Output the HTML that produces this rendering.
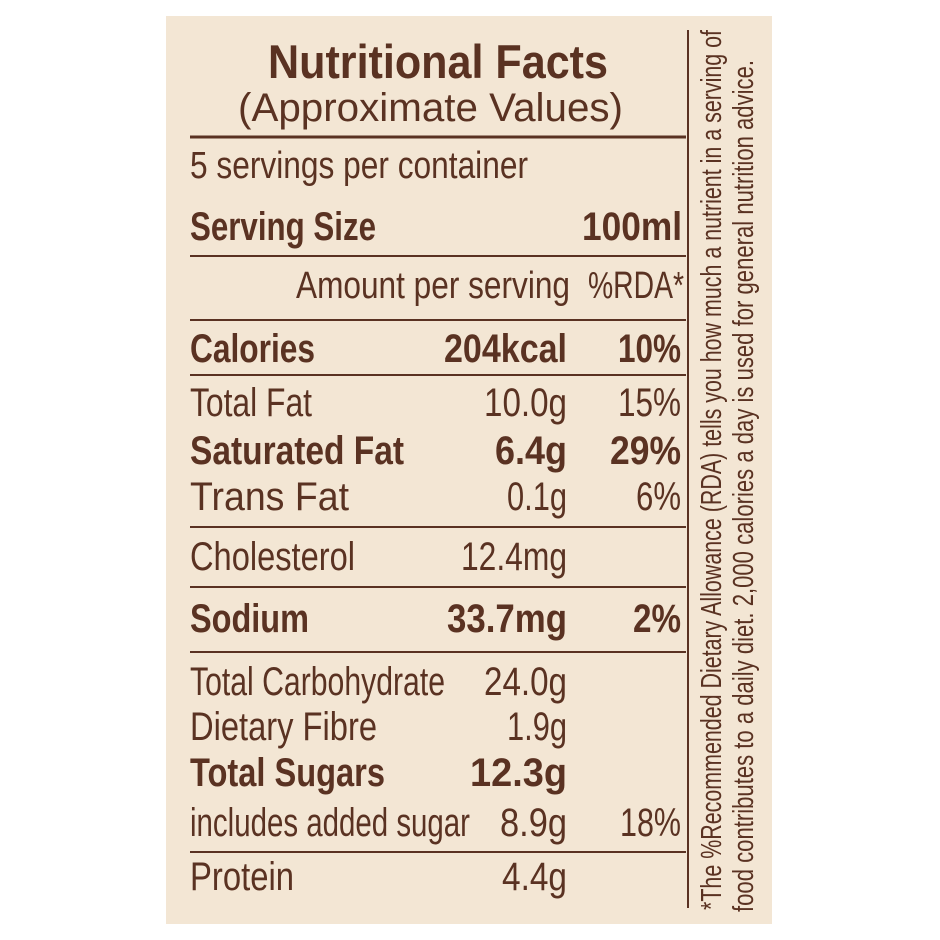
<!DOCTYPE html>
<html><head><meta charset="utf-8"><style>
html,body{margin:0;padding:0;background:#fff;}
svg{display:block}
text{font-family:"Liberation Sans",sans-serif;fill:#5a3222;}
.b{font-weight:bold}
</style></head><body>
<svg width="940" height="940" viewBox="0 0 940 940" xmlns="http://www.w3.org/2000/svg">
<rect x="166" y="16" width="606" height="908" fill="#f3e6d4"/>
<g stroke="#5a3222">
<line x1="190" y1="137" x2="686" y2="137" stroke-width="3"/>
<line x1="190" y1="256" x2="686" y2="256" stroke-width="2"/>
<line x1="190" y1="320" x2="686" y2="320" stroke-width="2"/>
<line x1="190" y1="375" x2="686" y2="375" stroke-width="2"/>
<line x1="190" y1="527" x2="686" y2="527" stroke-width="2"/>
<line x1="190" y1="587" x2="686" y2="587" stroke-width="2"/>
<line x1="190" y1="652" x2="686" y2="652" stroke-width="2"/>
<line x1="190" y1="852" x2="686" y2="852" stroke-width="2"/>
<line x1="688" y1="30" x2="688" y2="908" stroke-width="2"/>
</g>
<text class="b" x="268" y="78" font-size="47" textLength="340" lengthAdjust="spacingAndGlyphs">Nutritional Facts</text>
<text x="238" y="121" font-size="40" textLength="385" lengthAdjust="spacingAndGlyphs">(Approximate Values)</text>
<text x="190" y="178" font-size="38" textLength="338" lengthAdjust="spacingAndGlyphs">5 servings per container</text>
<text class="b" x="190" y="240" font-size="40" textLength="186" lengthAdjust="spacingAndGlyphs">Serving Size</text>
<text class="b" x="582" y="240" font-size="40" textLength="100" lengthAdjust="spacingAndGlyphs">100ml</text>
<text x="296" y="298" font-size="38" textLength="274" lengthAdjust="spacingAndGlyphs">Amount per serving</text>
<text x="588" y="298" font-size="38" textLength="96" lengthAdjust="spacingAndGlyphs">%RDA*</text>

<g font-size="40">
<text class="b" x="190" y="362" textLength="125" lengthAdjust="spacingAndGlyphs">Calories</text>
<text class="b" x="444" y="362" textLength="123" lengthAdjust="spacingAndGlyphs">204kcal</text>
<text class="b" x="618" y="362" textLength="63" lengthAdjust="spacingAndGlyphs">10%</text>

<text x="190" y="416" textLength="122" lengthAdjust="spacingAndGlyphs">Total Fat</text>
<text x="484" y="416" textLength="83" lengthAdjust="spacingAndGlyphs">10.0g</text>
<text x="618" y="416" textLength="63" lengthAdjust="spacingAndGlyphs">15%</text>

<text class="b" x="190" y="464" textLength="214" lengthAdjust="spacingAndGlyphs">Saturated Fat</text>
<text class="b" x="495" y="464" textLength="72" lengthAdjust="spacingAndGlyphs">6.4g</text>
<text class="b" x="610" y="464" textLength="71" lengthAdjust="spacingAndGlyphs">29%</text>

<text x="190" y="510" textLength="159" lengthAdjust="spacingAndGlyphs">Trans Fat</text>
<text x="507" y="510" textLength="60" lengthAdjust="spacingAndGlyphs">0.1g</text>
<text x="636" y="510" textLength="45" lengthAdjust="spacingAndGlyphs">6%</text>

<text x="190" y="570" textLength="165" lengthAdjust="spacingAndGlyphs">Cholesterol</text>
<text x="461" y="570" textLength="106" lengthAdjust="spacingAndGlyphs">12.4mg</text>

<text class="b" x="190" y="632" textLength="119" lengthAdjust="spacingAndGlyphs">Sodium</text>
<text class="b" x="447" y="632" textLength="120" lengthAdjust="spacingAndGlyphs">33.7mg</text>
<text class="b" x="633" y="632" textLength="48" lengthAdjust="spacingAndGlyphs">2%</text>

<text x="190" y="695" textLength="255" lengthAdjust="spacingAndGlyphs">Total Carbohydrate</text>
<text x="484" y="695" textLength="83" lengthAdjust="spacingAndGlyphs">24.0g</text>

<text x="190" y="740" textLength="187" lengthAdjust="spacingAndGlyphs">Dietary Fibre</text>
<text x="507" y="740" textLength="60" lengthAdjust="spacingAndGlyphs">1.9g</text>

<text class="b" x="190" y="786" textLength="195" lengthAdjust="spacingAndGlyphs">Total Sugars</text>
<text class="b" x="470" y="786" textLength="97" lengthAdjust="spacingAndGlyphs">12.3g</text>

<text x="190" y="836" textLength="280" lengthAdjust="spacingAndGlyphs">includes added sugar</text>
<text x="500" y="836" textLength="67" lengthAdjust="spacingAndGlyphs">8.9g</text>
<text x="620" y="836" textLength="61" lengthAdjust="spacingAndGlyphs">18%</text>

<text x="190" y="890" textLength="104" lengthAdjust="spacingAndGlyphs">Protein</text>
<text x="502" y="890" textLength="65" lengthAdjust="spacingAndGlyphs">4.4g</text>
</g>

<g font-size="29">
<text transform="translate(721,910) rotate(-90)" textLength="880" lengthAdjust="spacingAndGlyphs">*The %Recommended Dietary Allowance (RDA) tells you how much a nutrient in a serving of</text>
<text transform="translate(753,912) rotate(-90)" textLength="852" lengthAdjust="spacingAndGlyphs">food contributes to a daily diet. 2,000 calories a day is used for general nutrition advice.</text>
</g>
</svg>
</body></html>
